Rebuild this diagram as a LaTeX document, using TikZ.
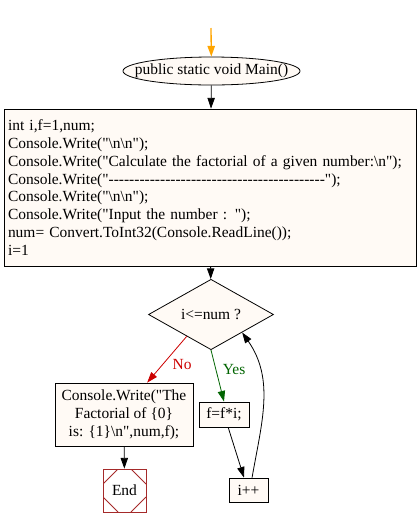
\documentclass[tikz,border=0pt]{standalone}
\usepackage{fontspec}
\setmainfont{Liberation Serif}[Ligatures=TeXOff]
\usetikzlibrary{shapes.geometric,arrows.meta}
\definecolor{nodefill}{RGB}{255,250,245}
\definecolor{endred}{RGB}{165,42,42}
\definecolor{yesgreen}{RGB}{0,100,0}
\definecolor{nored}{RGB}{204,0,0}
\definecolor{startorange}{RGB}{255,165,0}
\newcommand\bsn{\textbackslash n}

\begin{document}
\begin{tikzpicture}[x=0.75pt,y=-0.75pt,line width=0.6pt,
	font=\fontsize{11.6pt}{13.4pt}\selectfont,
	proc/.style={draw,fill=nodefill,inner sep=0pt,align=center},
	link/.style={-{Triangle[length=8pt,width=5.5pt]}},
	lbl/.style={inner sep=0pt}]
	\useasboundingbox (0,0) rectangle (420,526);

	\coordinate (start) at (211,28);
	\node[proc,ellipse,inner xsep=-11pt,minimum width=132.75pt,minimum height=21pt] (main) at (211.5,71) {public static void Main()};
	\node[proc,minimum width=309pt,minimum height=117.75pt,text width=303pt,align=left] (init) at (210,187.5) {int i,f=1,num;\\
		Console.Write("\bsn\bsn");\\
		Console.Write("Calculate the factorial of a given number:\bsn");\\
		Console.Write("------------------------------------------");\\
		Console.Write("\bsn\bsn");\\
		Console.Write("Input the number : ");\\
		num= Convert.ToInt32(Console.ReadLine());\\
		i=1};
	\node[proc,diamond,minimum width=93.75pt,minimum height=35.25pt] (cond) at (211,314.5) {i<=num ?};
	\node[proc,minimum width=103.5pt,minimum height=47.25pt] (out) at (124,414.5) {Console.Write("The\\ Factorial of \{0\}\\ is: \{1\}\bsn",num,f);};
	\node[proc,minimum width=37.5pt,minimum height=18.75pt] (fstep) at (224,414.5) {f=f*i;};
	\node[proc,minimum width=29.25pt,minimum height=18pt] (inc) at (248.5,490) {i++};
	\node[draw=endred,fill=white,minimum width=32.25pt,minimum height=32.25pt,inner sep=0pt,
		path picture={
			\draw[endred] ([yshift=-11.25pt]path picture bounding box.north west) -- ([xshift=11.25pt]path picture bounding box.north west);
			\draw[endred] ([yshift=-11.25pt]path picture bounding box.north east) -- ([xshift=-11.25pt]path picture bounding box.north east);
			\draw[endred] ([yshift=11.25pt]path picture bounding box.south west) -- ([xshift=11.25pt]path picture bounding box.south west);
			\draw[endred] ([yshift=11.25pt]path picture bounding box.south east) -- ([xshift=-11.25pt]path picture bounding box.south east);
		}] (stop) at (124.5,490.5) {End};

	% connectors
	\draw[link,startorange,line width=1pt] (start) -- (main);
	\draw[link] (main) -- (init);
	\draw[link] (init) -- (cond);
	\draw[link,nored] (cond.222) -- (out.54) node[lbl,pos=0.6,right=7pt,text=nored] (nolab) {No};
	\draw[link,yesgreen] (cond.south) -- (fstep.north) node[lbl,pos=0.37,right=5pt,text=yesgreen] (yeslab) {Yes};
	\draw[link] (out) -- (stop);
	\draw[link] (fstep.288) -- (inc.110);
	\draw[link] (inc.74) to[out=80,in=-55,looseness=1] (cond.330);
\end{tikzpicture}
\end{document}
